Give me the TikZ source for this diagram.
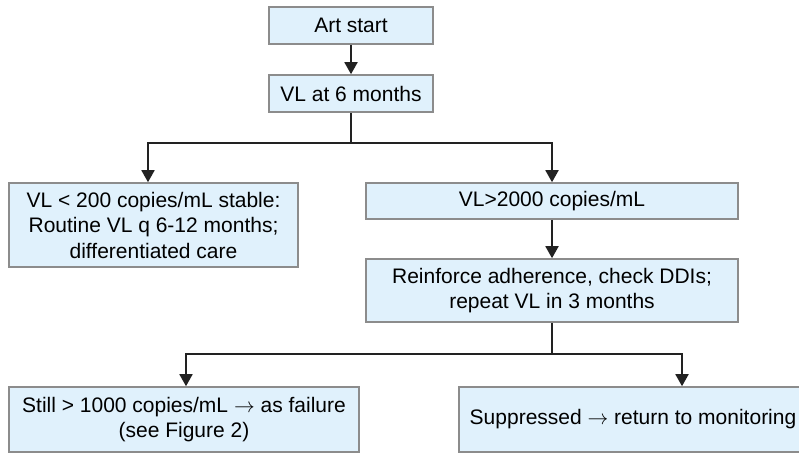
\documentclass[tikz,border=0pt]{standalone}
\usepackage{fontspec}
\setmainfont{Liberation Sans}
\usetikzlibrary{arrows.meta}
\definecolor{boxfill}{HTML}{E0F1FC}
\definecolor{boxline}{HTML}{8C8C8C}
\definecolor{conn}{HTML}{222222}
\begin{document}
\begin{tikzpicture}[x=1pt,y=-1pt,
  flowbox/.style={draw=boxline,line width=1.6pt,fill=boxfill,inner sep=0pt,align=center,
    font=\fontsize{21}{25.5}\selectfont},
  conline/.style={draw=conn,line width=1.8pt},
  arr/.style={conline,-{Triangle[width=13pt,length=12pt]}}]
\clip (0,0) rectangle (799,453);
\fill[white] (0,0) rectangle (799,453);
\node[flowbox,minimum width=164pt,minimum height=37pt] (b1) at (351,25.5) {Art start};
\node[flowbox,minimum width=164pt,minimum height=37pt] (b2) at (351,93.5) {VL at 6 months};
\node[flowbox,minimum width=289pt,minimum height=84pt] (b3) at (153.5,225) {VL < 200 copies/mL stable:\\Routine VL q 6-12 months;\\differentiated care};
\node[flowbox,minimum width=372pt,minimum height=36pt] (b4) at (552,201) {VL>2000 copies/mL};
\node[flowbox,minimum width=372pt,minimum height=63pt] (b5) at (552,290.5) {Reinforce adherence, check DDIs;\\repeat VL in 3 months};
\node[flowbox,minimum width=350pt,minimum height=65pt] (b6) at (184,419.5) {Still > 1000 copies/mL $\rightarrow$ as failure\\(see Figure 2)};
\node[flowbox,minimum width=348pt,minimum height=65pt] (b7) at (633,419.5) {Suppressed $\rightarrow$ return to monitoring};
\coordinate (j1) at (351,143);
\coordinate (j2) at (552,354);
\draw[arr] (b1.south) -- (b2.north);
\draw[conline] (b2.south) -- (j1);
\draw[arr] (j1) -| ([xshift=-5.5pt]b3.north);
\draw[arr] (j1) -| (b4.north);
\draw[arr] (b4.south) -- (b5.north);
\draw[conline] (b5.south) -- (j2);
\draw[arr] (j2) -| ([xshift=2pt]b6.north);
\draw[arr] (j2) -| ([xshift=49pt]b7.north);
\end{tikzpicture}
\end{document}
